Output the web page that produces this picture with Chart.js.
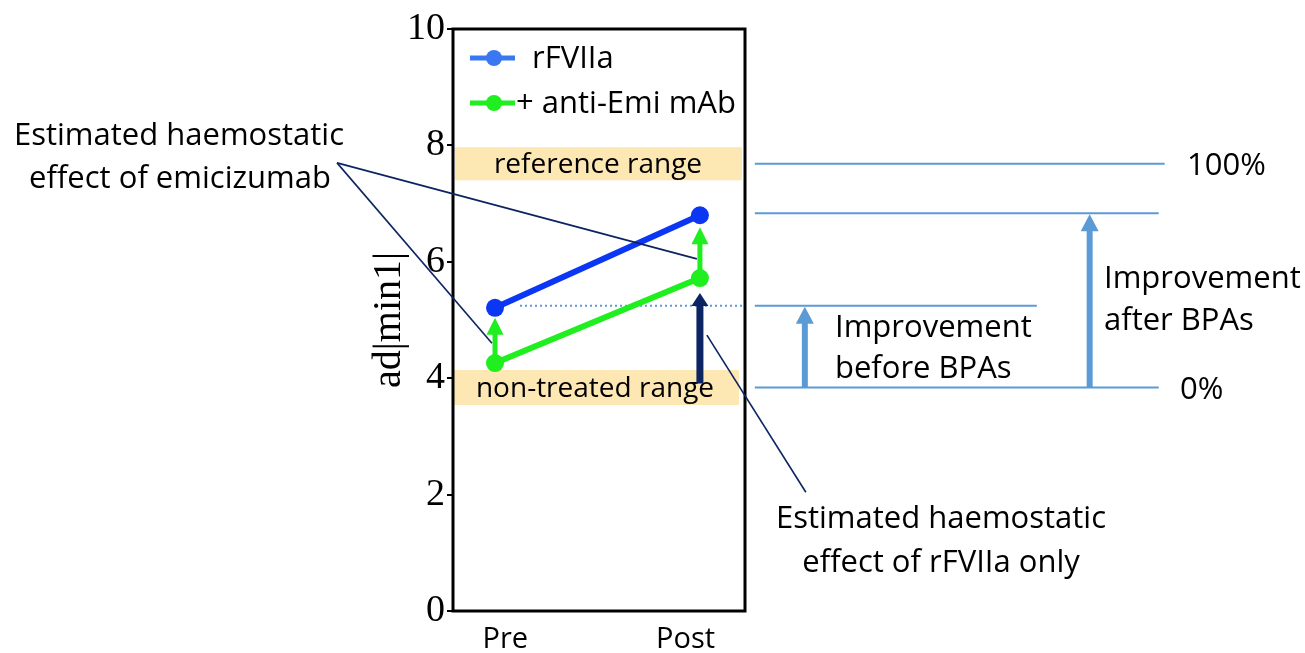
<!DOCTYPE html>
<html>
<head>
<meta charset="utf-8">
<script src="https://cdn.jsdelivr.net/npm/chart.js@4.4.0/dist/chart.umd.min.js"></script>
<style>
  html, body { margin: 0; padding: 0; background: #fff; }
  #wrap { width: 1305px; height: 653px; }
</style>
</head>
<body>
<div id="wrap"><canvas id="chart" width="1305" height="653"></canvas></div>
<script>
const categories = ["Pre", "Post"];
const seriesNames = ["rFVIIa", "+ anti-Emi mAb"];
const rfviiaValues = [5.21, 6.80];
const antiEmiValues = [4.26, 5.72];
const yTicks = [0, 2, 4, 6, 8, 10];
const referenceRange = [7.40, 7.97];
const nonTreatedRange = [3.54, 4.14];

const SANS = "'Open Sans'";
const SERIF = "Liberation Serif";
const BLUE = "#0b36f4";
const GREEN = "#1fee1f";
const NAVY = "#0c2462";
const LIGHT = "#5b9bd5";
const BAND = "#fde8b3";

// mid points of the two ranges = 100% / 0%
const fullMark = (referenceRange[0] + referenceRange[1]) / 2;
const zeroMark = (nonTreatedRange[0] + nonTreatedRange[1]) / 2;

function arrowUp(ctx, x, yFrom, yTip, color, shaft, headW, headH) {
  ctx.save();
  ctx.strokeStyle = color;
  ctx.fillStyle = color;
  ctx.lineWidth = shaft;
  ctx.beginPath();
  ctx.moveTo(x, yFrom);
  ctx.lineTo(x, yTip + headH - 1);
  ctx.stroke();
  ctx.beginPath();
  ctx.moveTo(x, yTip);
  ctx.lineTo(x - headW / 2, yTip + headH);
  ctx.lineTo(x + headW / 2, yTip + headH);
  ctx.closePath();
  ctx.fill();
  ctx.restore();
}

function hline(ctx, x0, x1, y, color, width, dash) {
  ctx.save();
  ctx.strokeStyle = color;
  ctx.lineWidth = width;
  if (dash) ctx.setLineDash(dash);
  ctx.beginPath();
  ctx.moveTo(x0, y);
  ctx.lineTo(x1, y);
  ctx.stroke();
  ctx.restore();
}

function seg(ctx, a, b) {
  ctx.beginPath();
  ctx.moveTo(a[0], a[1]);
  ctx.lineTo(b[0], b[1]);
  ctx.stroke();
}

function text(ctx, str, x, y, size, align) {
  ctx.save();
  ctx.fillStyle = "#000";
  ctx.font = `${size}px ${SANS}`;
  ctx.textAlign = align || "left";
  ctx.textBaseline = "middle";
  ctx.fillText(str, x, y);
  ctx.restore();
}

const extrasPlugin = {
  id: "extras",
  beforeDatasetsDraw(chart) {
    const { ctx, chartArea: ca, scales } = chart;
    const xs = scales.x;
    const ys = scales.y;

    // shaded ranges
    ctx.save();
    ctx.fillStyle = BAND;
    const r1 = ys.getPixelForValue(referenceRange[1]);
    const r0 = ys.getPixelForValue(referenceRange[0]);
    ctx.fillRect(ca.left + 2, r1, ca.width - 5, r0 - r1);
    const n1 = ys.getPixelForValue(nonTreatedRange[1]);
    const n0 = ys.getPixelForValue(nonTreatedRange[0]);
    ctx.fillRect(ca.left + 1, n1, ca.width - 7, n0 - n1);
    ctx.restore();
    text(ctx, "reference range", 598, (r0 + r1) / 2 + 1, 28, "center");
    text(ctx, "non-treated range", 595, (n0 + n1) / 2 + 2, 28, "center");

    const xPre = xs.getPixelForValue(0);
    const xPost = xs.getPixelForValue(1);

    // dotted level of rFVIIa pre
    hline(ctx, xs.getPixelForValue(0.122), ca.right, ys.getPixelForValue(rfviiaValues[0]) - 2, LIGHT, 2, [2, 3]);

    // green arrows: anti-Emi -> rFVIIa
    arrowUp(ctx, xPre, ys.getPixelForValue(antiEmiValues[0]), ys.getPixelForValue(rfviiaValues[0]) + 10, GREEN, 5, 17, 17);
    arrowUp(ctx, xPost, ys.getPixelForValue(antiEmiValues[1]), ys.getPixelForValue(rfviiaValues[1]) + 12, GREEN, 5, 17, 17);
    // navy arrow: non-treated -> anti-Emi post
    arrowUp(ctx, xPost, ys.getPixelForValue(zeroMark) - 4, ys.getPixelForValue(antiEmiValues[1]) + 15, NAVY, 7, 17, 13);
  },
  afterDraw(chart) {
    const { ctx, chartArea: ca, scales } = chart;
    const xs = scales.x;
    const ys = scales.y;
    const P = (x, y) => [xs.getPixelForValue(x), ys.getPixelForValue(y)];

    // frame
    ctx.save();
    ctx.strokeStyle = "#000";
    ctx.lineWidth = 3;
    ctx.strokeRect(ca.left, ca.top, ca.width, ca.height);
    ctx.restore();

    // legend
    const legendRows = [
      { name: seriesNames[0], color: "#3a78f2", y: 58, tx: 532 },
      { name: seriesNames[1], color: GREEN, y: 103, tx: 516 }
    ];
    legendRows.forEach((row) => {
      ctx.save();
      ctx.strokeStyle = row.color;
      ctx.fillStyle = row.color;
      ctx.lineWidth = 5;
      ctx.beginPath();
      ctx.moveTo(470, row.y);
      ctx.lineTo(515, row.y);
      ctx.stroke();
      ctx.beginPath();
      ctx.arc(494, row.y, 8, 0, Math.PI * 2);
      ctx.fill();
      ctx.restore();
      text(ctx, row.name, row.tx, row.y + 1, 31);
    });

    // percentage scale on the right
    const yFull = ys.getPixelForValue(fullMark);
    const yAfter = ys.getPixelForValue(rfviiaValues[1]) - 2;
    const yBefore = ys.getPixelForValue(rfviiaValues[0]) - 2;
    const yZero = ys.getPixelForValue(zeroMark);
    const xl = xs.getPixelForValue(1.268);
    hline(ctx, xl, xs.getPixelForValue(3.268), yFull, LIGHT, 2);
    hline(ctx, xl, xs.getPixelForValue(3.239), yAfter, LIGHT, 2);
    hline(ctx, xl, xs.getPixelForValue(2.644), yBefore, LIGHT, 2);
    hline(ctx, xl, xs.getPixelForValue(3.239), yZero, LIGHT, 2);
    arrowUp(ctx, xs.getPixelForValue(1.512), yZero, yBefore + 1, LIGHT, 6, 18, 17);
    arrowUp(ctx, xs.getPixelForValue(2.902), yZero, yAfter + 1, LIGHT, 6, 18, 17);

    text(ctx, "100%", 1187, yFull + 2, 31);
    text(ctx, "0%", 1180, yZero + 3, 31);
    text(ctx, "Improvement", 835, 328, 31);
    text(ctx, "before BPAs", 835, 369, 31);
    text(ctx, "Improvement", 1104, 279, 31);
    text(ctx, "after BPAs", 1104, 321, 31);

    // callouts
    ctx.save();
    ctx.strokeStyle = NAVY;
    ctx.lineWidth = 1.6;
    const hub = P(-0.771, 7.70);
    seg(ctx, hub, P(0.985, 6.05));
    seg(ctx, hub, P(-0.015, 4.60));
    seg(ctx, P(1.034, 4.74), P(1.517, 2.04));
    ctx.restore();

    text(ctx, "Estimated haemostatic", 179, 136, 31, "center");
    text(ctx, "effect of emicizumab", 180, 179, 31, "center");
    text(ctx, "Estimated haemostatic", 941, 519, 31, "center");
    text(ctx, "effect of rFVIIa only", 941, 563, 31, "center");
  }
};

const labelAt = [0.05, 0.93];

new Chart(document.getElementById("chart"), {
  type: "line",
  data: {
    datasets: [
      {
        label: seriesNames[0],
        data: rfviiaValues.map((v, i) => ({ x: i, y: v })),
        borderColor: BLUE,
        backgroundColor: BLUE,
        borderWidth: 6,
        pointRadius: 9,
        pointBorderWidth: 0,
        pointBackgroundColor: BLUE
      },
      {
        label: seriesNames[1],
        data: antiEmiValues.map((v, i) => ({ x: i, y: v })),
        borderColor: GREEN,
        backgroundColor: GREEN,
        borderWidth: 6,
        pointRadius: 9,
        pointBorderWidth: 0,
        pointBackgroundColor: GREEN
      }
    ]
  },
  options: {
    responsive: false,
    animation: false,
    layout: { padding: { left: 375, right: 560, top: 29, bottom: 0 } },
    plugins: { legend: { display: false }, tooltip: { enabled: false } },
    scales: {
      x: {
        type: "linear",
        min: -0.205,
        max: 1.22,
        grid: { display: false },
        border: { display: false },
        afterBuildTicks: (s) => { s.ticks = labelAt.map((v) => ({ value: v })); },
        afterFit: (s) => { s.height = 42; },
        ticks: {
          autoSkip: false,
          maxRotation: 0,
          padding: 3,
          color: "#000",
          font: { family: "Open Sans", size: 29 },
          callback: (v, i) => categories[i]
        }
      },
      y: {
        min: 0,
        max: 10,
        afterBuildTicks: (s) => { s.ticks = yTicks.map((v) => ({ value: v })); },
        afterFit: (s) => { s.width = 78; },
        grid: { drawOnChartArea: false, color: "#000", lineWidth: 2, tickLength: 6 },
        border: { display: false },
        ticks: { color: "#000", padding: 2, font: { family: SERIF, size: 38 } },
        title: { display: true, text: "ad|min1|", color: "#000", padding: { top: -10, bottom: 0 }, font: { family: SERIF, size: 40 } }
      }
    }
  },
  plugins: [extrasPlugin]
});
</script>
</body>
</html>
